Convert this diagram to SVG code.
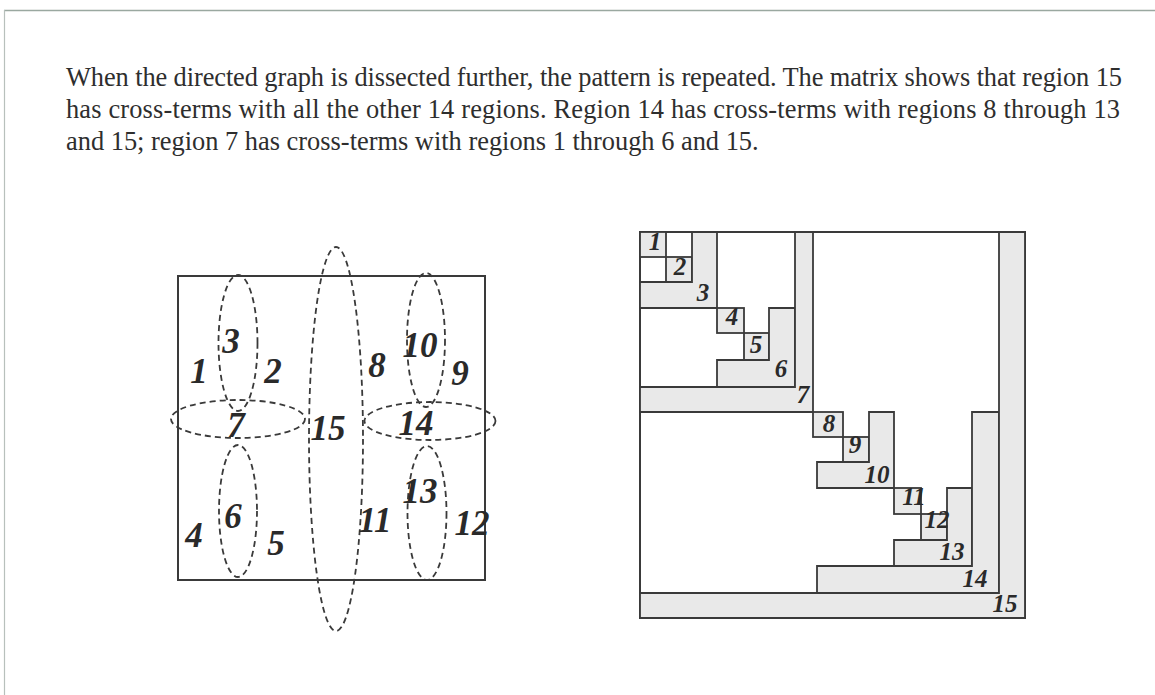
<svg xmlns="http://www.w3.org/2000/svg" width="1155" height="695" viewBox="0 0 1155 695">
<style>
.para{font-family:"Liberation Serif","Times New Roman",serif;font-size:26.4px;fill:#2e2e2e}
.lbl{font-family:"Liberation Serif","Times New Roman",serif;font-weight:bold;font-style:italic;font-size:35px;fill:#2a2a2a;text-anchor:middle}
.mlbl{font-family:"Liberation Serif","Times New Roman",serif;font-weight:bold;font-style:italic;font-size:25px;fill:#2a2a2a;text-anchor:middle}
.ell{fill:none;stroke:#3a3a3a;stroke-width:1.8;stroke-dasharray:6 4}
.sh{fill:#e9e9e9;stroke:#3a3a3a;stroke-width:1.8;stroke-linejoin:miter}
.box{fill:none;stroke:#3a3a3a;stroke-width:2}
</style>
<rect x="0" y="0" width="1155" height="695" fill="#ffffff"/>
<g id="frame">
<line x1="4" y1="10.5" x2="1155" y2="10.5" stroke="#9aa8a0" stroke-width="1.5"/>
<line x1="4.5" y1="10" x2="4.5" y2="695" stroke="#b8c0bc" stroke-width="1.2"/>
</g>
<g id="paragraph">
<text class="para" x="66" y="86" textLength="1056" lengthAdjust="spacing">When the directed graph is dissected further, the pattern is repeated. The matrix shows that region 15</text>
<text class="para" x="66" y="118" textLength="1054" lengthAdjust="spacing">has cross-terms with all the other 14 regions. Region 14 has cross-terms with regions 8 through 13</text>
<text class="para" x="66" y="150">and 15; region 7 has cross-terms with regions 1 through 6 and 15.</text>
</g>
<g id="graph">
<rect id="domain" class="box" x="178" y="276" width="307" height="304"/>
<g id="separators">
<ellipse id="sep15" class="ell" cx="336" cy="439" rx="27" ry="192"/>
<ellipse id="sep3" class="ell" cx="238" cy="343" rx="19.5" ry="68"/>
<ellipse id="sep6" class="ell" cx="238" cy="511" rx="19" ry="66"/>
<ellipse id="sep10" class="ell" cx="426" cy="340" rx="19" ry="67"/>
<ellipse id="sep13" class="ell" cx="427" cy="513" rx="19.5" ry="67"/>
<ellipse id="sep7" class="ell" cx="238" cy="419" rx="67" ry="19"/>
<ellipse id="sep14" class="ell" cx="430" cy="421" rx="65.5" ry="19"/>
</g>
<g id="graph-labels">
<text class="lbl" x="199" y="383">1</text>
<text class="lbl" x="273" y="383">2</text>
<text class="lbl" x="231" y="353">3</text>
<text class="lbl" x="236" y="437">7</text>
<text class="lbl" x="377" y="377">8</text>
<text class="lbl" x="420" y="357">10</text>
<text class="lbl" x="460" y="385">9</text>
<text class="lbl" x="328" y="440">15</text>
<text class="lbl" x="416" y="435">14</text>
<text class="lbl" x="420" y="503">13</text>
<text class="lbl" x="233" y="528">6</text>
<text class="lbl" x="194" y="547">4</text>
<text class="lbl" x="276" y="555">5</text>
<text class="lbl" x="375" y="532">11</text>
<text class="lbl" x="472" y="535">12</text>
</g>
</g>
<g id="matrix">
<rect id="m-outer" class="box" x="640" y="232" width="385" height="386"/>
<g id="m-blocks">
<rect id="r1" class="sh" x="640" y="232" width="26" height="25"/>
<rect id="r2" class="sh" x="666" y="257" width="26" height="25"/>
<polygon id="r3" class="sh" points="692,232 717,232 717,308 640,308 640,282 692,282"/>
<rect id="r4" class="sh" x="717" y="308" width="27" height="25"/>
<rect id="r5" class="sh" x="744" y="333" width="25" height="27"/>
<polygon id="r6" class="sh" points="769,308 795,308 795,387 717,387 717,360 769,360"/>
<polygon id="r7" class="sh" points="795,232 813,232 813,412 640,412 640,387 795,387"/>
<rect id="r8" class="sh" x="813" y="412" width="30" height="25"/>
<rect id="r9" class="sh" x="843" y="437" width="26" height="25"/>
<polygon id="r10" class="sh" points="869,412 894,412 894,488 817,488 817,462 869,462"/>
<rect id="r11" class="sh" x="894" y="488" width="27" height="26"/>
<rect id="r12" class="sh" x="921" y="514" width="26" height="26"/>
<polygon id="r13" class="sh" points="947,488 972,488 972,566 894,566 894,540 947,540"/>
<polygon id="r14" class="sh" points="972,412 999,412 999,593 817,593 817,566 972,566"/>
<polygon id="r15" class="sh" points="999,232 1025,232 1025,618 640,618 640,593 999,593"/>
</g>
<g id="matrix-labels">
<text class="mlbl" x="655" y="250">1</text>
<text class="mlbl" x="680" y="275">2</text>
<text class="mlbl" x="703" y="301">3</text>
<text class="mlbl" x="732" y="325">4</text>
<text class="mlbl" x="756" y="353">5</text>
<text class="mlbl" x="781" y="377">6</text>
<text class="mlbl" x="803" y="403">7</text>
<text class="mlbl" x="829" y="432">8</text>
<text class="mlbl" x="855" y="453">9</text>
<text class="mlbl" x="877" y="483">10</text>
<text class="mlbl" x="914" y="505">11</text>
<text class="mlbl" x="937" y="528">12</text>
<text class="mlbl" x="952" y="560">13</text>
<text class="mlbl" x="975" y="587">14</text>
<text class="mlbl" x="1005" y="612">15</text>
</g>
</g>
</svg>
